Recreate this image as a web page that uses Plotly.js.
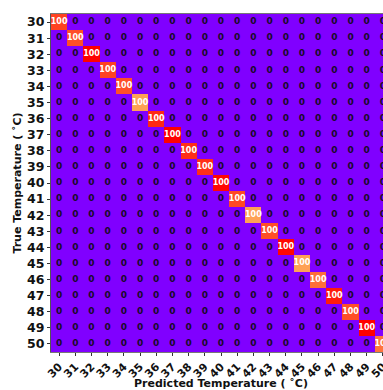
<!DOCTYPE html>
<html>
<head>
<meta charset="utf-8">
<script src="https://cdn.plot.ly/plotly-3.0.1.min.js"></script>
<style>
html,body{margin:0;padding:0;overflow:hidden;background:#fff;}
#chart{width:400px;height:390px;}
</style>
</head>
<body>
<div id="chart"></div>
<script>
// Temperature classes (°C)
const temps = [30,31,32,33,34,35,36,37,38,39,40,41,42,43,44,45,46,47,48,49,50];
// Correctly classified sample counts per class (diagonal), read from cell shade
const diagCounts = [110,108,120,110,108,94,114,120,113,113,119,109,94,108,119,94,103,116,108,120,102];
// Off-diagonal counts are all zero in the reference
const offDiagCount = 0;

// Build confusion matrix (rows = true, cols = predicted)
const z = temps.map((t, i) => temps.map((p, j) => (i === j ? diagCounts[i] : offDiagCount)));
const rowSums = z.map(r => r.reduce((a, b) => a + b, 0));
const pct = z.map((r, i) => r.map(v => Math.round(100 * v / rowSums[i])));

// matplotlib-like "rainbow" colormap
function rainbow(x){
  const r = Math.min(1, Math.abs(2*x - 0.5));
  const g = Math.sin(Math.PI * x);
  const b = Math.cos(Math.PI * x / 2);
  const h = v => Math.round(Math.max(0, Math.min(1, v)) * 255);
  return `rgb(${h(r)},${h(g)},${h(b)})`;
}
const cs = [];
for (let k = 0; k <= 40; k++) cs.push([k/40, rainbow(k/40)]);

const zeroX = [], zeroY = [], zeroT = [];
const fullX = [], fullY = [], fullT = [];
temps.forEach((t, i) => temps.forEach((p, j) => {
  if (pct[i][j] > 50) { fullX.push(p); fullY.push(t); fullT.push(String(pct[i][j])); }
  else { zeroX.push(p); zeroY.push(t); zeroT.push(String(pct[i][j])); }
}));

const data = [
  {type:'heatmap', x: temps, y: temps, z: z, colorscale: cs, zmin: 0, zmax: Math.max(...diagCounts),
   showscale: false, hoverinfo: 'skip'},
  {type:'scatter', mode:'text', x: zeroX, y: zeroY, text: zeroT,
   textfont:{family:'DejaVu Sans', size:9, color:'#1a0a2a', weight:'bold'}, hoverinfo:'skip'},
  {type:'scatter', mode:'text', x: fullX, y: fullY, text: fullT,
   textfont:{family:'DejaVu Sans', size:8, color:'#ffffff', weight:'bold'}, hoverinfo:'skip'}
];

const layout = {
  width: 400, height: 390,
  margin: {l: 51, r: 9, t: 14, b: 38},
  paper_bgcolor: '#fff', plot_bgcolor: '#fff',
  showlegend: false,
  font: {family: 'DejaVu Sans', color: '#111'},
  xaxis: {
    tickmode: 'array', tickvals: temps, ticktext: temps.map(String),
    tickangle: -45, tickfont: {size: 11, weight: 'bold', color: '#111'},
    ticks: 'outside', ticklen: 3, tickcolor: '#333',
    showline: true, mirror: true, linecolor: '#777', linewidth: 1,
    showgrid: false, zeroline: false, range: [29.5, 50.5], fixedrange: true,
    title: {text: 'Predicted Temperature ( ˚C)', font: {size: 11, weight: 'bold', color: '#111'}, standoff: 2}
  },
  yaxis: {
    tickmode: 'array', tickvals: temps, ticktext: temps.map(String),
    tickfont: {size: 12.5, weight: 'bold', color: '#111'},
    ticks: 'outside', ticklen: 3, tickcolor: '#333',
    showline: true, mirror: true, linecolor: '#555', linewidth: 1,
    showgrid: false, zeroline: false, range: [50.5, 29.5], fixedrange: true,
    title: {text: 'True Temperature ( ˚C)', font: {size: 11, weight: 'bold', color: '#111'}, standoff: 3}
  }
};

Plotly.newPlot('chart', data, layout, {displayModeBar: false, staticPlot: true});
</script>
</body>
</html>
